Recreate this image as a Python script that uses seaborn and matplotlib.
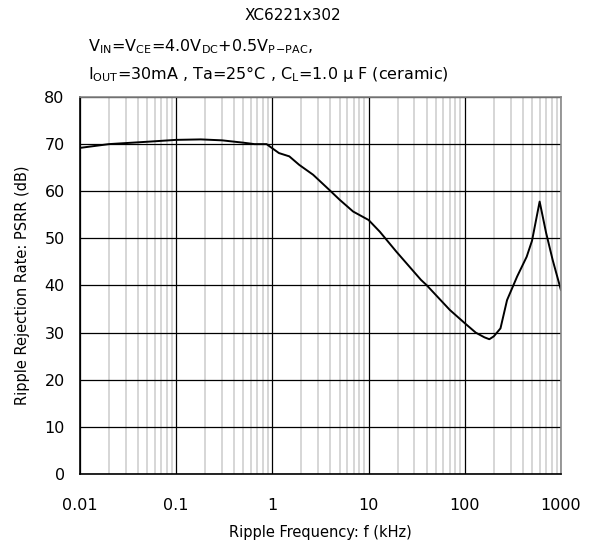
import numpy as np
import pandas as pd
import matplotlib
matplotlib.use("Agg")
import matplotlib.pyplot as plt
import seaborn as sns
from matplotlib.ticker import LogLocator, FixedLocator, NullFormatter

# Values
freq_khz = [0.01, 0.02, 0.05, 0.1, 0.18, 0.3, 0.5, 0.65, 0.87, 1.0, 1.17, 1.5, 1.9,
            2.65, 3.9, 5.0, 6.9, 10, 13.1, 19.4, 35, 40, 70, 100, 130, 160, 180,
            200, 235, 275, 350, 440, 500, 600, 700, 820, 1000]
psrr_db = [69.2, 70.0, 70.5, 70.9, 71.0, 70.8, 70.3, 70.0, 70.0, 69.1, 68.1, 67.4, 65.6,
           63.5, 60.3, 58.2, 55.7, 53.9, 51.4, 47.2, 41.2, 40.1, 34.8, 32.0, 30.0, 29.0, 28.6,
           29.2, 30.9, 36.9, 41.9, 46.1, 49.5, 57.8, 51.2, 45.4, 39.0]

x_ticks = [0.01, 0.1, 1, 10, 100, 1000]
x_tick_labels = ["0.01", "0.1", "1", "10", "100", "1000"]
y_ticks = [0, 10, 20, 30, 40, 50, 60, 70, 80]

df = pd.DataFrame({"f": freq_khz, "psrr": psrr_db})

sns.set_theme(style="white")
plt.rcParams["font.family"] = ["DejaVu Sans"]
plt.rcParams["text.color"] = "black"
plt.rcParams["axes.labelcolor"] = "black"

fig = plt.figure(figsize=(5.93, 5.52), dpi=100)
ax = fig.add_axes([0.1349, 0.1413, 0.8111, 0.683])

sns.lineplot(data=df, x="f", y="psrr", ax=ax, color="black", linewidth=1.4)

ax.set_xscale("log")
ax.set_xlim(0.01, 1000)
ax.set_ylim(0, 80)
ax.xaxis.set_major_locator(FixedLocator(x_ticks))
ax.set_xticklabels(x_tick_labels)
ax.xaxis.set_minor_locator(LogLocator(base=10, subs=np.arange(2, 10)))
ax.xaxis.set_minor_formatter(NullFormatter())
ax.set_yticks(y_ticks)

ax.grid(which="minor", axis="x", color="#d0d0d0", linewidth=1.2)
ax.grid(which="major", axis="both", color="black", linewidth=0.9)
ax.set_axisbelow(True)

for side in ["left", "bottom"]:
    ax.spines[side].set_color("black")
    ax.spines[side].set_linewidth(1.2)
for side in ["top", "right"]:
    ax.spines[side].set_color("#888888")
    ax.spines[side].set_linewidth(1.2)

ax.tick_params(axis="both", which="both", length=0, labelsize=11.5, colors="black")
ax.tick_params(axis="x", pad=17)
ax.tick_params(axis="y", pad=11)

ax.set_xlabel("Ripple Frequency: f (kHz)", fontsize=10.5, labelpad=9)
ax.set_ylabel("Ripple Rejection Rate: PSRR (dB)", fontsize=10.5, labelpad=10)

fig.text(0.494, 0.972, "XC6221x302", fontsize=11, ha="center", va="center")
fig.text(0.148, 0.915, r"V$\mathregular{_{IN}}$=V$\mathregular{_{CE}}$=4.0V$\mathregular{_{DC}}$+0.5V$\mathregular{_{P\!-\!PAC}}$,",
         fontsize=11.5, ha="left", va="center")
fig.text(0.148, 0.866, r"I$\mathregular{_{OUT}}$=30mA , Ta=25°C , C$\mathregular{_{L}}$=1.0 μ F (ceramic)",
         fontsize=11.5, ha="left", va="center")

fig.savefig("out.png", dpi=100, facecolor="white")
